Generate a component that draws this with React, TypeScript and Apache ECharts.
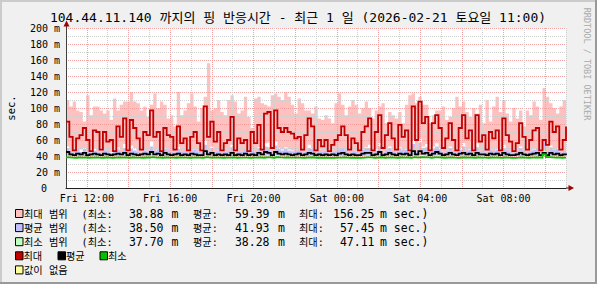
import React, { useEffect, useRef } from 'react';
import * as echarts from 'echarts';

// Time span in hours counted from Friday 00:00
const START_HOUR = 11;
const END_HOUR = 35;

// Max-RTT line (ms)
const maxLine = [
  83, 64, 47, 62, 66, 75, 60, 46, 72, 70, 48, 70, 58, 60, 46, 77, 64, 87, 47, 85, 75, 62, 48, 70, 66, 97, 64, 70, 46, 75,
  66, 64, 48, 77, 56, 62, 47, 64, 70, 56, 47, 102, 64, 83, 58, 70, 47, 56, 60, 89, 47, 62, 56, 60, 46, 70, 56, 79, 48, 93,
  95, 50, 97, 75, 70, 75, 70, 68, 62, 64, 48, 66, 87, 77, 47, 60, 52, 60, 46, 54, 60, 66, 77, 66, 48, 62, 56, 47, 70, 77,
  87, 47, 70, 91, 50, 66, 81, 62, 48, 79, 64, 72, 47, 102, 60, 108, 81, 89, 47, 81, 91, 75, 50, 62, 81, 60, 47, 75, 91, 62,
  72, 47, 91, 58, 66, 48, 70, 62, 72, 47, 87, 66, 58, 46, 56, 81, 64, 48, 60, 72, 75, 47, 60, 54, 83, 70, 77, 48, 60, 77,
];
// Max range top / bottom
const maxTop = [
  110, 102, 108, 97, 95, 83, 116, 91, 102, 102, 97, 93, 97, 85, 112, 97, 104, 108, 108, 120, 108, 106, 97, 102, 89, 104, 118, 100, 108, 104,
  87, 91, 77, 120, 91, 97, 106, 118, 102, 83, 100, 114, 156, 97, 100, 110, 95, 91, 110, 116, 108, 93, 97, 114, 89, 75, 112, 114, 106, 104,
  102, 116, 118, 114, 110, 120, 114, 104, 93, 112, 106, 97, 97, 93, 102, 87, 85, 91, 87, 81, 106, 118, 104, 91, 102, 110, 104, 93, 100, 108,
  100, 87, 97, 102, 106, 81, 95, 91, 87, 95, 81, 104, 116, 118, 106, 114, 104, 104, 81, 91, 97, 97, 102, 85, 89, 100, 114, 102, 108, 95,
  89, 100, 93, 104, 81, 110, 83, 102, 114, 95, 110, 93, 83, 100, 87, 97, 77, 97, 91, 108, 102, 85, 125, 114, 106, 100, 93, 102, 110, 106,
];
const maxLow = [
  52, 44, 42, 45, 48, 50, 43, 42, 49, 46, 42, 48, 44, 45, 42, 51, 45, 55, 42, 53, 50, 44, 42, 47, 46, 58, 45, 48, 42, 50,
  46, 45, 42, 51, 43, 44, 42, 45, 48, 43, 42, 60, 45, 52, 43, 47, 42, 43, 44, 54, 42, 44, 43, 44, 42, 47, 43, 51, 42, 56,
  57, 43, 58, 50, 48, 51, 48, 47, 45, 45, 42, 46, 54, 50, 42, 44, 43, 44, 42, 43, 44, 46, 50, 46, 42, 45, 43, 42, 48, 51,
  54, 42, 48, 56, 43, 46, 52, 45, 42, 51, 45, 49, 42, 60, 44, 62, 52, 55, 42, 52, 56, 50, 43, 45, 52, 44, 42, 50, 56, 45,
  49, 42, 56, 44, 46, 42, 48, 45, 49, 42, 54, 46, 44, 42, 43, 52, 45, 42, 44, 49, 50, 42, 44, 43, 53, 48, 50, 42, 44, 51,
];
// Average line and range
const avgLine = [
  45, 42, 41, 43, 42, 44, 41, 42, 43, 42, 41, 43, 42, 41, 42, 43, 42, 44, 41, 43, 42, 41, 42, 43, 42, 45, 42, 43, 41, 44,
  42, 41, 42, 43, 41, 42, 41, 43, 42, 41, 41, 46, 42, 44, 41, 42, 41, 42, 41, 44, 41, 42, 41, 43, 41, 42, 41, 44, 42, 45,
  44, 41, 45, 43, 42, 43, 42, 41, 42, 43, 41, 42, 44, 43, 41, 42, 41, 42, 41, 42, 41, 43, 44, 42, 41, 42, 41, 41, 43, 44,
  44, 41, 42, 45, 41, 42, 44, 42, 41, 43, 42, 43, 41, 46, 42, 46, 43, 44, 41, 43, 45, 43, 41, 42, 44, 42, 41, 43, 44, 42,
  43, 41, 44, 42, 42, 41, 43, 42, 43, 41, 44, 42, 41, 41, 42, 44, 42, 41, 42, 43, 44, 41, 44, 41, 44, 42, 43, 41, 42, 43,
];
const avgTop = [
  50, 46, 44, 48, 45, 49, 45, 44, 47, 46, 44, 48, 46, 44, 45, 48, 46, 50, 44, 49, 47, 45, 44, 47, 46, 52, 46, 48, 44, 49,
  47, 45, 44, 49, 45, 46, 44, 47, 48, 45, 44, 54, 46, 50, 45, 47, 44, 45, 46, 51, 44, 46, 45, 48, 44, 47, 45, 50, 44, 52,
  51, 44, 53, 49, 47, 49, 47, 46, 46, 47, 44, 46, 50, 49, 44, 46, 45, 46, 44, 45, 46, 48, 50, 47, 44, 46, 45, 44, 48, 50,
  50, 44, 47, 52, 44, 47, 50, 46, 44, 49, 47, 48, 44, 55, 46, 57, 50, 51, 44, 49, 52, 49, 44, 46, 50, 46, 44, 48, 52, 46,
  48, 44, 51, 46, 47, 44, 48, 46, 48, 44, 50, 47, 45, 44, 46, 50, 47, 44, 46, 48, 50, 44, 57, 45, 51, 48, 49, 44, 46, 49,
];
const avgLow = [
  40.4, 39.9, 39.6, 40.1, 39.8, 40.3, 39.7, 39.8, 40.1, 39.9, 39.6, 40.2, 39.9, 39.6, 39.8, 40.3, 39.9, 40.5, 39.6, 40.3, 40.0, 39.7, 39.7, 40.2, 39.9, 40.7, 39.9, 40.2, 39.6, 40.4,
  39.9, 39.7, 39.6, 40.2, 39.7, 39.8, 39.6, 40.0, 40.1, 39.7, 39.6, 40.8, 39.9, 40.4, 39.7, 40.0, 39.6, 39.8, 39.7, 40.4, 39.6, 39.8, 39.7, 40.0, 39.6, 39.9, 39.7, 40.3, 39.8, 40.6,
  40.5, 39.6, 40.7, 40.2, 39.9, 40.1, 39.9, 39.7, 39.8, 40.0, 39.6, 39.8, 40.4, 40.1, 39.6, 39.8, 39.7, 39.8, 39.6, 39.7, 39.7, 40.0, 40.3, 39.9, 39.6, 39.8, 39.7, 39.6, 40.0, 40.3,
  40.3, 39.6, 39.9, 40.5, 39.7, 39.9, 40.3, 39.8, 39.6, 40.2, 39.9, 40.1, 39.6, 40.9, 39.8, 41.0, 40.2, 40.4, 39.6, 40.2, 40.5, 40.1, 39.6, 39.8, 40.3, 39.8, 39.6, 40.1, 40.4, 39.8,
  40.1, 39.6, 40.4, 39.8, 39.9, 39.6, 40.1, 39.8, 40.1, 39.6, 40.3, 39.9, 39.7, 39.6, 39.8, 40.3, 39.9, 39.6, 39.8, 40.1, 40.3, 39.6, 40.8, 39.7, 40.4, 40.0, 40.2, 39.6, 39.8, 40.1,
];
// Minimum line and range
const minLine = [
  38.4, 38.0, 37.8, 38.1, 38.0, 38.2, 37.8, 37.9, 38.1, 38.0, 37.8, 38.1, 38.0, 37.8, 37.9, 38.2, 38.0, 38.3, 37.8, 38.2, 38.0, 37.9, 37.8, 38.1, 38.0, 38.5, 38.0, 38.1, 37.8, 38.2,
  38.0, 37.9, 37.8, 38.2, 37.9, 38.0, 37.8, 38.0, 38.1, 37.9, 37.8, 38.6, 38.0, 38.3, 37.9, 38.0, 37.8, 37.9, 37.9, 38.3, 37.8, 38.0, 37.9, 38.0, 37.8, 38.0, 37.9, 38.2, 37.8, 38.4,
  38.4, 37.8, 38.5, 38.2, 38.0, 38.1, 38.0, 37.9, 37.9, 38.0, 37.8, 37.9, 38.3, 38.1, 37.8, 37.9, 37.8, 37.9, 37.7, 37.8, 37.9, 38.0, 38.2, 38.0, 37.8, 37.9, 37.8, 37.7, 38.0, 38.2,
  38.3, 37.8, 38.0, 38.4, 37.8, 38.0, 38.2, 37.9, 37.8, 38.2, 38.0, 38.1, 37.8, 38.6, 37.9, 38.7, 38.2, 38.3, 37.8, 38.2, 38.4, 38.1, 37.8, 37.9, 38.2, 37.9, 37.7, 38.1, 38.3, 37.9,
  38.1, 37.8, 38.3, 37.9, 38.0, 37.8, 38.1, 37.9, 38.1, 37.7, 38.2, 38.0, 37.8, 37.7, 37.9, 38.2, 38.0, 37.8, 37.9, 38.1, 38.3, 37.8, 42.0, 38.6, 38.3, 38.0, 38.1, 37.8, 37.9, 38.1,
];
const minTop = [
  39.6, 38.8, 38.4, 39.0, 38.7, 39.3, 38.5, 38.6, 39.1, 38.8, 38.4, 39.2, 38.8, 38.4, 38.6, 39.4, 38.8, 39.8, 38.4, 39.5, 39.0, 38.6, 38.5, 39.1, 38.9, 40.2, 38.8, 39.2, 38.4, 39.5,
  38.9, 38.6, 38.4, 39.4, 38.6, 38.8, 38.4, 38.9, 39.2, 38.6, 38.4, 41.0, 38.8, 39.8, 38.6, 39.0, 38.4, 38.6, 38.7, 40.0, 38.4, 38.8, 38.6, 38.9, 38.4, 39.0, 38.6, 39.6, 38.5, 40.3,
  40.1, 38.5, 40.4, 39.5, 39.0, 39.3, 39.0, 38.7, 38.7, 38.9, 38.4, 38.7, 39.8, 39.4, 38.4, 38.6, 38.5, 38.6, 38.3, 38.5, 38.6, 38.9, 39.6, 38.9, 38.4, 38.7, 38.5, 38.3, 39.0, 39.6,
  39.8, 38.5, 39.0, 40.3, 38.5, 39.0, 39.7, 38.7, 38.4, 39.6, 38.9, 39.3, 38.4, 41.2, 38.7, 41.5, 39.6, 39.9, 38.4, 39.6, 40.2, 39.3, 38.5, 38.7, 39.6, 38.7, 38.3, 39.3, 40.0, 38.7,
  39.2, 38.5, 39.9, 38.7, 39.0, 38.4, 39.2, 38.7, 39.2, 38.3, 39.6, 38.9, 38.5, 38.3, 38.6, 39.6, 38.9, 38.4, 38.7, 39.3, 39.8, 38.5, 47.1, 40.5, 39.8, 39.0, 39.3, 38.4, 38.7, 39.2,
];
const minLow = [
  38.0, 37.8, 37.7, 37.9, 37.8, 37.9, 37.7, 37.8, 37.9, 37.8, 37.7, 37.9, 37.8, 37.7, 37.7, 37.9, 37.8, 38.0, 37.7, 37.9, 37.8, 37.7, 37.7, 37.9, 37.8, 38.1, 37.8, 37.9, 37.7, 37.9,
  37.8, 37.7, 37.7, 37.9, 37.7, 37.8, 37.7, 37.8, 37.9, 37.7, 37.7, 38.2, 37.8, 38.0, 37.7, 37.8, 37.7, 37.7, 37.7, 38.0, 37.7, 37.8, 37.7, 37.8, 37.7, 37.8, 37.7, 37.9, 37.7, 38.1,
  38.0, 37.7, 38.1, 37.9, 37.8, 37.9, 37.8, 37.7, 37.7, 37.8, 37.7, 37.7, 38.0, 37.9, 37.7, 37.7, 37.7, 37.7, 37.7, 37.7, 37.7, 37.8, 37.9, 37.8, 37.7, 37.7, 37.7, 37.7, 37.8, 37.9,
  37.9, 37.7, 37.8, 38.0, 37.7, 37.8, 37.9, 37.7, 37.7, 37.9, 37.8, 37.8, 37.7, 38.2, 37.7, 38.3, 37.9, 38.0, 37.7, 37.9, 38.0, 37.8, 37.7, 37.7, 37.9, 37.7, 37.7, 37.8, 37.9, 37.7,
  37.8, 37.7, 37.9, 37.7, 37.8, 37.7, 37.8, 37.7, 37.8, 37.7, 37.9, 37.8, 37.7, 37.7, 37.7, 37.9, 37.8, 37.7, 37.7, 37.8, 37.9, 37.7, 39.5, 38.1, 37.9, 37.8, 37.8, 37.7, 37.7, 37.8,
];

// Axis ticks
const xTickHours = [12, 16, 20, 24, 28, 32];
const xTickLabels = ['Fri 12:00', 'Fri 16:00', 'Fri 20:00', 'Sat 00:00', 'Sat 04:00', 'Sat 08:00'];
const yTickValues = [0, 20, 40, 60, 80, 100, 120, 140, 160, 180, 200];
const yTickLabels = ['0', '20 m', '40 m', '60 m', '80 m', '100 m', '120 m', '140 m', '160 m', '180 m', '200 m'];

// Legend texts
const titleText = '104.44.11.140 까지의 핑 반응시간 - 최근 1 일 (2026-02-21 토요일 11:00)';
const rangeNames = ['최대 범위', '평균 범위', '최소 범위'];
const rangeMin = ['38.88', '38.50', '37.70'];
const rangeAvg = ['59.39', '41.93', '38.28'];
const rangeMax = ['156.25', '57.45', '47.11'];
const lineNames = ['최대', '평균', '최소'];
const unknownName = '값이 없음';

const C_PINK = '#FFC0C0';
const C_BLUE = '#C0C0FF';
const C_LGREEN = '#C0FFC0';
const C_RED = '#C00000';
const C_BLACK = '#000000';
const C_GREEN = '#00C000';
const C_YELLOW = '#FFFFA0';
const GRID_MINOR = '#CFCFCF';
const GRID_MAJOR = '#F2A0A0';
const MONO = "'DejaVu Sans Mono', 'Noto Sans CJK KR', monospace";

export default function App() {
  const ref = useRef<HTMLDivElement>(null);

  useEffect(() => {
    const chart = echarts.init(ref.current!, null, { renderer: 'svg' });
    const n = maxLine.length;
    const xs = maxLine.map((_, i) => START_HOUR + (i * (END_HOUR - START_HOUR)) / (n - 1));
    const pairs = (arr: number[]) => arr.map((v, i) => [xs[i], v]);
    const area = (name: string, arr: number[], color: string) => ({
      type: 'line', name, data: pairs(arr), step: 'end', symbol: 'none', silent: true,
      lineStyle: { opacity: 0, width: 0 }, areaStyle: { color, opacity: 1, origin: 'start' }, z: 1,
    });
    const line = (name: string, arr: number[], color: string, width: number) => ({
      type: 'line', name, data: pairs(arr), step: 'end', symbol: 'none', silent: true,
      lineStyle: { color, width, type: 'solid', cap: 'butt', join: 'miter' }, z: 8,
    });

    const graphics: any[] = [];
    // frame shading
    graphics.push({ type: 'rect', shape: { x: 0, y: 0, width: 597, height: 2 }, style: { fill: '#CBCBCB' }, silent: true });
    graphics.push({ type: 'rect', shape: { x: 0, y: 0, width: 2, height: 284 }, style: { fill: '#CBCBCB' }, silent: true });
    graphics.push({ type: 'rect', shape: { x: 0, y: 282, width: 597, height: 2 }, style: { fill: '#999999' }, silent: true });
    graphics.push({ type: 'rect', shape: { x: 595, y: 0, width: 2, height: 284 }, style: { fill: '#999999' }, silent: true });
    // title
    graphics.push({ type: 'text', x: 298, y: 17.5, style: { text: titleText, font: `13px ${MONO}`, fill: '#000', align: 'center', verticalAlign: 'middle' } });
    // watermark
    graphics.push({ type: 'text', x: 587, y: 64, rotation: -Math.PI / 2, style: { text: 'RRDTOOL / TOBI OETIKER', font: `8.5px ${MONO}`, fill: '#AAAAAA', align: 'center', verticalAlign: 'middle' } });
    // unit
    graphics.push({ type: 'text', x: 11, y: 108, rotation: Math.PI / 2, style: { text: 'sec.', font: `10.5px ${MONO}`, fill: '#000', align: 'center', verticalAlign: 'middle' } });
    // axis arrows
    graphics.push({ type: 'line', shape: { x1: 66.5, y1: 28, x2: 66.5, y2: 23 }, style: { stroke: '#404040', lineWidth: 1 }, z: 20 });
    graphics.push({ type: 'polygon', shape: { points: [[63.5, 26.5], [69.5, 26.5], [66.5, 20.5]] }, style: { fill: '#A00000' }, z: 21 });
    graphics.push({ type: 'line', shape: { x1: 566, y1: 188, x2: 570, y2: 188 }, style: { stroke: '#202020', lineWidth: 1 }, z: 20 });
    graphics.push({ type: 'polygon', shape: { points: [[568.5, 185], [568.5, 191], [574, 188]] }, style: { fill: '#A00000' }, z: 21 });

    // legend
    const rowY = (i: number) => 214 + i * 14.1;
    const box = (x: number, y: number, color: string) => ({
      type: 'rect', shape: { x: x + 0.5, y: y - 4.5, width: 7.5, height: 8 }, style: { fill: color, stroke: '#000', lineWidth: 1 },
    });
    const txt = (x: number, y: number, text: string, align = 'left', size = 11.5) => ({
      type: 'text', x, y, style: { text, font: `${size}px ${MONO}`, fill: '#000', align, verticalAlign: 'middle' },
    });
    const CJK = 10.2;
    const rangeColors = [C_PINK, C_BLUE, C_LGREEN];
    rangeNames.forEach((name, i) => {
      const y = rowY(i);
      graphics.push(box(15, y, rangeColors[i]));
      graphics.push(txt(24, y, name, 'left', CJK));
      graphics.push(txt(81.5, y, '(최소:', 'left', CJK));
      graphics.push(txt(163.5, y, rangeMin[i], 'right'));
      graphics.push(txt(171.5, y, 'm'));
      graphics.push(txt(193, y, '평균:', 'left', CJK));
      graphics.push(txt(269.5, y, rangeAvg[i], 'right'));
      graphics.push(txt(278, y, 'm'));
      graphics.push(txt(299, y, '최대:', 'left', CJK));
      graphics.push(txt(374.5, y, rangeMax[i], 'right'));
      graphics.push(txt(380, y, 'm sec.)'));
    });
    const lineColors = [C_RED, C_BLACK, C_GREEN];
    const lineBoxX = [15, 57.5, 99.5];
    lineNames.forEach((name, i) => {
      const y = rowY(3);
      graphics.push(box(lineBoxX[i], y, lineColors[i]));
      graphics.push(txt(lineBoxX[i] + 8.5, y, name, 'left', CJK));
    });
    graphics.push(box(15, rowY(4), C_YELLOW));
    graphics.push(txt(24, rowY(4), unknownName, 'left', CJK));

    chart.setOption({
      animation: false,
      backgroundColor: '#F0F0F0',
      grid: { left: 66, right: 31, top: 28, bottom: 96, show: true, backgroundColor: '#FFFFFF', borderWidth: 0 },
      xAxis: {
        type: 'value', min: START_HOUR, max: END_HOUR, interval: 1, z: 4,
        axisLine: { show: true, onZero: false, lineStyle: { color: '#202020', width: 1 } },
        axisTick: { show: false },
        axisLabel: {
          margin: 5, fontSize: 10, fontFamily: MONO, color: '#000', showMinLabel: false, showMaxLabel: false,
          formatter: (v: number) => { const i = xTickHours.indexOf(Math.round(v)); return i >= 0 && Math.abs(v - Math.round(v)) < 1e-6 ? xTickLabels[i] : ''; },
        },
        splitLine: { show: true, lineStyle: { color: [GRID_MINOR, GRID_MAJOR], type: [1, 1], width: 1 } },
      },
      yAxis: {
        type: 'value', min: 0, max: 200, interval: 10, z: 4,
        axisLine: { show: true, onZero: false, lineStyle: { color: '#404040', width: 1 } },
        axisTick: { show: false },
        axisLabel: {
          margin: 6, fontSize: 10, fontFamily: MONO, color: '#000',
          formatter: (v: number) => {
            const i = yTickValues.indexOf(v);
            if (i < 0) return '';
            return v === 0 ? `{z|${yTickLabels[i]}}` : yTickLabels[i];
          },
          rich: { z: { fontSize: 10, fontFamily: MONO, color: '#000', padding: [0, 13, 0, 0] } },
        },
        splitLine: { show: true, lineStyle: { color: [GRID_MAJOR, GRID_MINOR], type: [1, 1], width: 1 } },
      },
      series: [
        area('최대 범위', maxTop, C_PINK),
        area('max-low', maxLow, '#FFFFFF'),
        area('평균 범위', avgTop, C_BLUE),
        area('avg-low', avgLow, '#FFFFFF'),
        area('최소 범위', minTop, C_LGREEN),
        area('min-low', minLow, '#FFFFFF'),
        line('최대', maxLine, C_RED, 1.8),
        line('평균', avgLine, C_BLACK, 1.8),
        line('최소', minLine, C_GREEN, 1.8),
      ],
      graphic: graphics,
    });
    return () => chart.dispose();
  }, []);

  return <div ref={ref} style={{ position: 'fixed', left: 0, top: 0, width: 597, height: 284 }} />;
}
